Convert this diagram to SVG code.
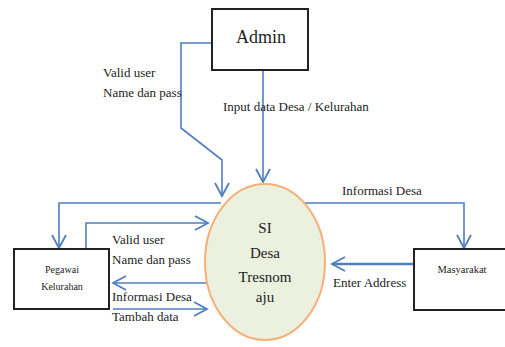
<svg xmlns="http://www.w3.org/2000/svg" width="505" height="347" viewBox="0 0 505 347">
<style>
.box{fill:#fff;stroke:#222;stroke-width:2}
.t{font-family:"Liberation Serif","Times New Roman",serif;fill:#222}
.c{fill:none;stroke:#4f7fc0;stroke-width:1.6}
.thick{stroke-width:2.6}
</style>
<defs>
<marker id="ah" markerUnits="userSpaceOnUse" markerWidth="20" markerHeight="20" viewBox="-14 -10 20 20" refX="0" refY="0" orient="auto">
<path d="M-13,-7 L0,0 L-13,7" fill="none" stroke="#4f7fc0" stroke-width="1.8"/>
</marker>
</defs>
<rect width="505" height="347" fill="#fff"/>
<g id="connectors">
<polyline class="c" points="212,43 181,43 181,128 222,160 222,196" marker-end="url(#ah)"/>
<line class="c" x1="263" y1="70" x2="263" y2="182" marker-end="url(#ah)"/>
<polyline class="c" points="221,203 59,203 59,248" marker-end="url(#ah)"/>
<polyline class="c" points="86,249 86,223 208,223" marker-end="url(#ah)"/>
<line class="c" x1="208" y1="283" x2="113" y2="283" marker-end="url(#ah)"/>
<line class="c" x1="113" y1="309" x2="207" y2="309" marker-end="url(#ah)"/>
<polyline class="c" points="302,203 464,203 464,248" marker-end="url(#ah)"/>
<line class="c thick" x1="414" y1="264" x2="332" y2="264" marker-end="url(#ah)"/>
<text class="t" font-size="13" x="103" y="77">Valid user</text>
<text class="t" font-size="13" x="103" y="97">Name dan pass</text>
<text class="t" font-size="13" x="223" y="111">Input data Desa / Kelurahan</text>
<text class="t" font-size="13" x="342" y="195">Informasi Desa</text>
<text class="t" font-size="13" x="112" y="244">Valid user</text>
<text class="t" font-size="13" x="112" y="264">Name dan pass</text>
<text class="t" font-size="13" x="112" y="301">Informasi Desa</text>
<text class="t" font-size="13" x="112" y="321">Tambah data</text>
<text class="t" font-size="13" x="333" y="287">Enter Address</text>
</g>
<g id="admin">
<rect class="box" x="212" y="9" width="96" height="61"/>
<text class="t" font-size="18" x="261" y="43" text-anchor="middle">Admin</text>
</g>
<g id="si-desa">
<ellipse cx="265" cy="262" rx="60" ry="78" fill="#ebf1de" stroke="#f5b07a" stroke-width="2"/>
<text class="t" font-size="15" text-anchor="middle" x="265" y="233">SI</text>
<text class="t" font-size="15" text-anchor="middle" x="265" y="258">Desa</text>
<text class="t" font-size="15" text-anchor="middle" x="265" y="282">Tresnom</text>
<text class="t" font-size="15" text-anchor="middle" x="265" y="302">aju</text>
</g>
<g id="pegawai">
<rect class="box" x="14" y="249" width="95" height="60"/>
<text class="t" font-size="10" text-anchor="middle" x="62" y="273">Pegawai</text>
<text class="t" font-size="10" text-anchor="middle" x="62" y="290">Kelurahan</text>
</g>
<g id="masyarakat">
<rect class="box" x="414" y="249" width="100" height="61"/>
<text class="t" font-size="10.5" text-anchor="middle" x="462" y="273">Masyarakat</text>
</g>
</svg>
